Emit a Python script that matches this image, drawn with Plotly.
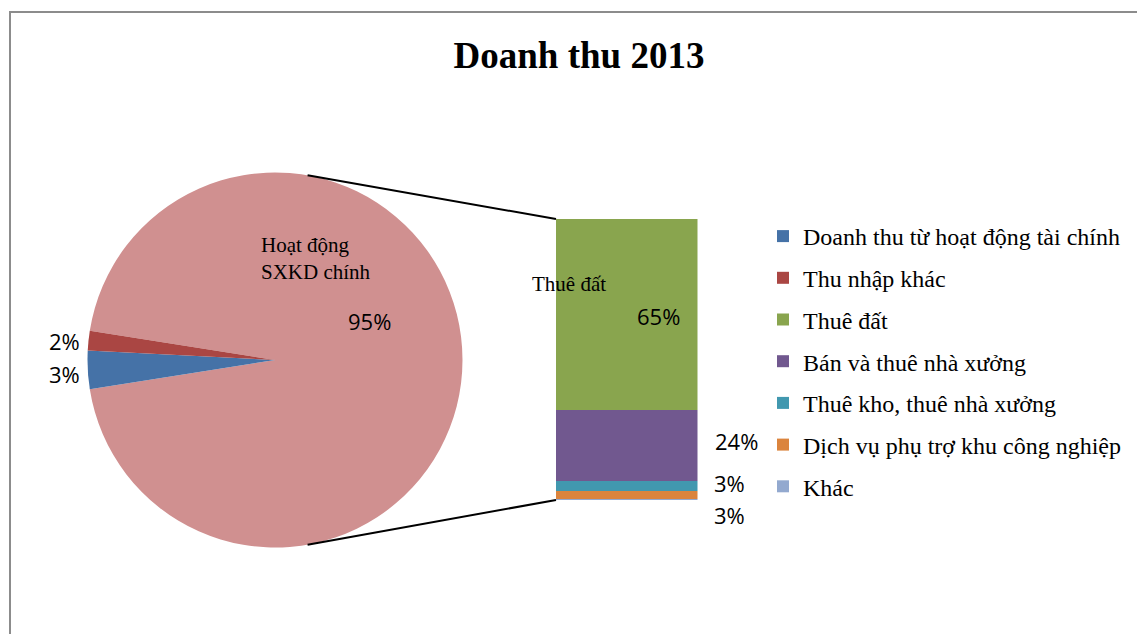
import plotly.graph_objects as go
import math

W, H = 1137, 634

# ---------------- data ----------------
title_text = "Doanh thu 2013"
pie_labels = ["Doanh thu từ hoạt động tài chính", "Thu nhập khác"]
pie_values = [3.3, 1.7]
main_label = "Hoạt động<br>SXKD chính"          # the pie slice that is broken out into the bar
bar_labels = ["Thuê đất", "Bán và thuê nhà xưởng", "Thuê kho, thuê nhà xưởng",
              "Dịch vụ phụ trợ khu công nghiệp", "Khác"]
bar_values = [64.7, 24.0, 3.3, 2.7, 0.3]

pie_colors = ["#4572A7", "#AA4643"]
main_color = "#D09090"
bar_colors = ["#89A54E", "#71588F", "#4198AF", "#DB843D", "#93A9CF"]

# ---------------- helpers ----------------
def px(x):
    return x / W

def py(y):
    return 1 - y / H

SERIF = "Liberation Serif"
SANS = "Open Sans"

main_value = sum(bar_values)
total = main_value + sum(pie_values)
pct = lambda v: f"{round(v / total * 100)}%"

# pie geometry (pixels)
cx, cy, r = 275, 360, 187.5
# bar geometry (pixels)
bx0, bx1, by_top, by_bot = 556, 697.5, 219, 500

fig = go.Figure()

share = main_value / total
fig.add_trace(go.Pie(
    labels=[main_label.replace("<br>", " ")] + pie_labels,
    values=[main_value] + pie_values,
    marker=dict(colors=[main_color] + pie_colors, line=dict(width=0)),
    sort=False, direction="clockwise",
    rotation=90 - share * 180,
    textinfo="none", showlegend=False,
    domain=dict(x=[px(cx - r), px(cx + r)], y=[py(cy + r), py(cy - r)]),
))

# legend-only entries for the two small pie slices
for i, (lab_, col) in enumerate(zip(pie_labels, pie_colors)):
    fig.add_trace(go.Bar(
        x=[0], y=[0], name=lab_, marker=dict(color=col, line=dict(width=0)),
        legendgroup=lab_, legendrank=i + 1, hoverinfo="skip",
    ))

# stacked bar (bottom to top: reversed order)
n = len(bar_labels)
for j in reversed(range(n)):
    fig.add_trace(go.Bar(
        x=[0], y=[bar_values[j]], name=bar_labels[j],
        marker=dict(color=bar_colors[j], line=dict(width=0)),
        legendgroup=bar_labels[j], legendrank=len(pie_labels) + j + 1,
        width=1,
    ))

fig.update_layout(
    width=W, height=H,
    margin=dict(l=0, r=0, t=0, b=0),
    paper_bgcolor="white", plot_bgcolor="white",
    barmode="stack", bargap=0,
    xaxis=dict(domain=[px(bx0), px(bx1)], range=[-0.5, 0.5], visible=False, fixedrange=True),
    yaxis=dict(domain=[py(by_bot), py(by_top)], range=[0, main_value], visible=False, fixedrange=True),
    title=dict(text=title_text, x=px(579), xanchor="center", y=py(55), yanchor="middle",
               font=dict(family=SERIF, size=37, color="black", weight="bold")),
    legend=dict(x=px(763), xanchor="left", y=py(214), yanchor="top",
                traceorder="grouped", tracegroupgap=7.5,
                font=dict(family=SERIF, size=24, color="black"),
                bgcolor="rgba(0,0,0,0)"),
    showlegend=True,
)

# chart border (top & left visible in the frame)
fig.add_shape(type="rect", xref="paper", yref="paper",
              x0=px(10), x1=px(W + 20), y0=py(H + 20), y1=py(12),
              line=dict(color="#8C8C8C", width=2), fillcolor="rgba(0,0,0,0)")

# connector lines from the pie to the bar
ang = math.radians(80)
p_top = (cx + r * math.cos(ang), cy - r * math.sin(ang))
p_bot = (cx + r * math.cos(ang), cy + r * math.sin(ang))
fig.add_shape(type="line", xref="paper", yref="paper",
              x0=px(p_top[0]), y0=py(p_top[1]), x1=px(bx0), y1=py(by_top),
              line=dict(color="black", width=2))
fig.add_shape(type="line", xref="paper", yref="paper",
              x0=px(p_bot[0]), y0=py(p_bot[1]), x1=px(bx0), y1=py(by_bot),
              line=dict(color="black", width=2))

# data labels
def lab(text, x, y, size=22, family=SANS, xanchor="center", align="center"):
    fig.add_annotation(text=text, x=px(x), y=py(y), xref="paper", yref="paper",
                       xanchor=xanchor, yanchor="middle", align=align, showarrow=False,
                       font=dict(family=family, size=size, color="black"))

lab(pct(main_value), 369, 321)
lab(pct(pie_values[1]), 64, 341)
lab(pct(pie_values[0]), 64, 374)
lab(main_label, 259, 258, size=21, family=SERIF, xanchor="left", align="left")

lab(bar_labels[0], 569, 284, size=21, family=SERIF)
lab(pct(bar_values[0]), 658, 316)
lab(pct(bar_values[1]), 736, 441)
lab(pct(bar_values[2]), 729, 483)
lab(pct(bar_values[3]), 729, 515)

fig.write_html("out.html")
